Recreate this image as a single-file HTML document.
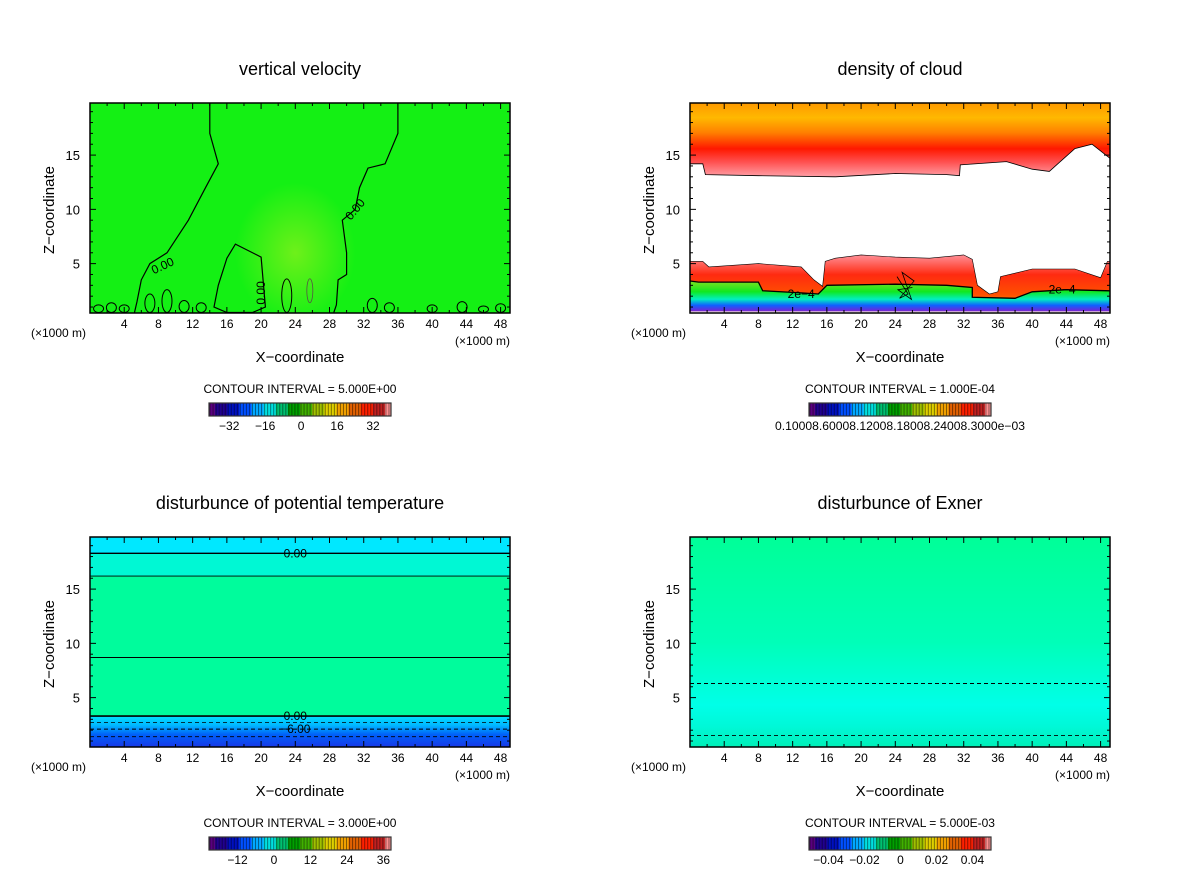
<!DOCTYPE html>
<html><head><meta charset="utf-8"><style>
body{margin:0;background:#fff;width:1200px;height:868px;overflow:hidden}
svg text{font-family:"Liberation Sans",sans-serif;fill:#000}
</style></head><body>
<svg id="s" width="1200" height="868" viewBox="0 0 1200 868" xmlns="http://www.w3.org/2000/svg">
<defs>
<linearGradient id="gCloudTop" gradientUnits="objectBoundingBox" x1="0" y1="1" x2="0" y2="0">
<stop offset="0" stop-color="#ffa0a8"/><stop offset="0.2" stop-color="#ff5050"/><stop offset="0.38" stop-color="#ff1800"/><stop offset="0.6" stop-color="#ff8000"/><stop offset="0.8" stop-color="#ffb800"/><stop offset="1" stop-color="#ff9a00"/></linearGradient>
<linearGradient id="gCloudLow" x1="0" y1="0" x2="0" y2="1">
<stop offset="0" stop-color="#ff9098"/><stop offset="0.35" stop-color="#ff2a10"/><stop offset="0.7" stop-color="#ff5000"/><stop offset="1" stop-color="#ffa000"/></linearGradient>
<linearGradient id="gCloudWet" x1="0" y1="0" x2="0" y2="1">
<stop offset="0" stop-color="#80e020"/><stop offset="0.35" stop-color="#10e820"/><stop offset="0.6" stop-color="#00f0c0"/><stop offset="0.8" stop-color="#1060ff"/><stop offset="1" stop-color="#8020d0"/></linearGradient>
<linearGradient id="gTheta" x1="0" y1="0" x2="0" y2="1">
<stop offset="0" stop-color="#00e0ff"/><stop offset="0.3" stop-color="#00b8ff"/><stop offset="0.6" stop-color="#0060f8"/><stop offset="1" stop-color="#1838e8"/></linearGradient>
<linearGradient id="gExner" x1="0" y1="0" x2="0" y2="1">
<stop offset="0" stop-color="#00ff98"/><stop offset="0.5" stop-color="#00ffb8"/><stop offset="0.8" stop-color="#00ffe8"/><stop offset="0.9" stop-color="#00f8d8"/><stop offset="1" stop-color="#00f0b8"/></linearGradient>
<radialGradient id="gBlob"><stop offset="0" stop-color="#c8f020" stop-opacity="0.5"/><stop offset="1" stop-color="#c8f020" stop-opacity="0"/></radialGradient>
</defs>
<g id="root"></g>
</svg>
<script>
// ---- data ----
const xTicks=[4,8,12,16,20,24,28,32,36,40,44,48];
const zTicks=[5,10,15];
const titles=["vertical velocity","density of cloud","disturbunce of potential temperature","disturbunce of Exner"];
const intervals=["CONTOUR INTERVAL = 5.000E+00","CONTOUR INTERVAL = 1.000E-04","CONTOUR INTERVAL = 3.000E+00","CONTOUR INTERVAL = 5.000E-03"];
const cbLabels0=[-32,-16,0,16,32];
const cbLabels2=[-12,0,12,24,36];
const cbLabels3=[-0.04,-0.02,0,0.02,0.04];
const cbDomains=[[-41,40],[0,1],[-21.4,38.5],[-0.0508,0.0503]];
const wLeft=[[14,19.8],[14,17],[15,14.2],[13.5,12],[11.5,9],[9,6],[7,5],[6,3.5],[5.5,1.5],[5.2,0.5]];
const wRight=[[36,19.8],[36,17],[34.5,14.2],[32.5,13.8],[31.5,12],[31,10],[29.5,9],[30,6],[30,4],[29,3.5],[28.8,1.2],[28.5,0.5]];
const wBlob=[[17,6.8],[20,5.6],[20.5,1],[19,0.5],[16,0.5],[14.5,1],[15,3],[16,5.5]];
const wBumps=[[1,1.2],[2.5,1.4],[4,1.2],[7,2.2],[9,2.6],[11,1.6],[13,1.4],[23,3.6],[33,1.8],[35,1.4],[40,1.2],[43.5,1.5],[46,1.1],[48,1.3]];
const cTop=[[0,14.2],[1.5,14.2],[1.8,13.2],[8,13.1],[17,13],[24,13.3],[30,13.2],[31.5,13.1],[31.6,14.1],[37,14.4],[40,13.7],[42,13.5],[43,14.2],[45,15.6],[47,16],[49.1,14.7]];
const cLow=[[0,5.2],[1.5,5.2],[2.2,4.7],[8,5],[13,4.7],[14.5,3.5],[15.5,2.9],[15.8,5.2],[17,5.5],[20,5.8],[24,5.6],[28,5.5],[32,5.8],[33,5.4],[33.6,3],[35,2.2],[36,2.4],[36.3,3.8],[40,4.5],[45,4.5],[48,3.7],[48.8,5.2],[49.1,5.2]];
const cWet=[[0,3.4],[1,3.3],[8,3.3],[8.5,2.5],[13,2.3],[15,2.2],[16,3.0],[24,3.1],[30,3.0],[33,2.8],[33,1.9],[38,1.8],[40,2.4],[44,2.6],[49.1,2.5]];
const cScribble=[[24.2,3.8],[25.5,2.2],[24.5,1.8],[26.2,3.4],[24.8,4.2],[25.9,1.7],[24.3,2.6],[26,2.8]];
const thLevels=[18.3,16.2,8.7,3.3,2.7,2.1,1.4];
const thDash=[0,0,0,0,1,1,1];
const thWidth=[1.4,0.9,0.9,1.6,0.8,1,0.8];
const exLevels=[6.3,1.5];
const palette=["#5a0080","#200090","#0010c0","#0050ff","#00a8ff","#00e0e0","#00c070","#00a000","#40b000","#a0c000","#e0d000","#f0a000","#e06000","#ff2000","#c02020","#ff9090"];

const panels=[{x0:90,y0:103},{x0:690,y0:103},{x0:90,y0:537},{x0:690,y0:537}];
const W=420,H=210,XMAX=49.1,ZMIN=0.45,ZMAX=19.8;
const NS="http://www.w3.org/2000/svg";
const root=document.getElementById('root');
function mk(tag,attrs,parent){const e=document.createElementNS(NS,tag);for(const k in attrs)e.setAttribute(k,attrs[k]);(parent||root).appendChild(e);return e;}
function sx(p,x){return p.x0+x/XMAX*W;}
function sz(p,z){return p.y0+H-(z-ZMIN)/(ZMAX-ZMIN)*H;}
function pts(p,arr){return arr.map(a=>sx(p,a[0]).toFixed(1)+","+sz(p,a[1]).toFixed(1)).join(" ");}

function frame(i){
  const p=panels[i];
  const g=mk('g',{});
  
  
  mk('rect',{x:p.x0,y:p.y0,width:W,height:H,fill:'none',stroke:'#000','stroke-width':1.5},g);
  for(let x=2;x<XMAX;x+=2){const maj=x%4===0;const L=maj?6:3;const X=sx(p,x);
    mk('line',{x1:X,y1:p.y0+H,x2:X,y2:p.y0+H-L,stroke:'#000'},g);
    mk('line',{x1:X,y1:p.y0,x2:X,y2:p.y0+L,stroke:'#000'},g);}
  for(let z=1;z<ZMAX;z+=1){const maj=z%5===0;const L=maj?6:3;const Y=sz(p,z);
    mk('line',{x1:p.x0,y1:Y,x2:p.x0+L,y2:Y,stroke:'#000'},g);
    mk('line',{x1:p.x0+W,y1:Y,x2:p.x0+W-L,y2:Y,stroke:'#000'},g);}
  xTicks.forEach(v=>{const t=mk('text',{x:sx(p,v),y:p.y0+H+15,'font-size':12,'text-anchor':'middle'},g);t.textContent=v;
    });
  zTicks.forEach(v=>{const t=mk('text',{x:p.x0-10,y:sz(p,v)+5,'font-size':13,'text-anchor':'end'},g);t.textContent=v;
    });
  let t=mk('text',{x:p.x0-59,y:p.y0+H+24,'font-size':12},g);t.textContent="(×1000 m)";
  
  t=mk('text',{x:p.x0+W-55,y:p.y0+H+32,'font-size':12},g);t.textContent="(×1000 m)";
  
  t=mk('text',{x:p.x0+W/2,y:p.y0+H+49,'font-size':15,'text-anchor':'middle'},g);t.textContent="X−coordinate";
  
  t=mk('text',{x:0,y:0,'font-size':15,'text-anchor':'middle',transform:`translate(${p.x0-36},${p.y0+H/2+2}) rotate(-90)`},g);t.textContent="Z−coordinate";
  
  t=mk('text',{x:p.x0+W/2,y:p.y0-28,'font-size':18,'text-anchor':'middle'},g);t.textContent=titles[i];
  
  t=mk('text',{x:p.x0+W/2,y:p.y0+H+80,'font-size':12,'text-anchor':'middle'},g);t.textContent=intervals[i];
  
}
function colorbar(i,labels){
  const p=panels[i];const bx=p.x0+119,by=p.y0+H+90,bw=182,bh=13;
  const g=mk('g',{});
  
  
  const n=60;
  for(let k=0;k<n;k++){const f=k/(n-1)*(palette.length-1);const c=palette[Math.round(f)];
    mk('rect',{x:bx+k*bw/n,y:by,width:bw/n+0.3,height:bh,fill:c},g);
    mk('line',{x1:bx+k*bw/n+1,y1:by,x2:bx+k*bw/n+1,y2:by+bh,stroke:'#000','stroke-opacity':0.45,'stroke-width':1},g);}
  mk('rect',{x:bx,y:by,width:bw,height:bh,fill:'none',stroke:'#333','stroke-width':1.2},g);
  const d=cbDomains[i];
  if(labels){labels.forEach(v=>{const X=bx+(v-d[0])/(d[1]-d[0])*bw;
    const t=mk('text',{x:X,y:by+bh+14,'font-size':12,'text-anchor':'middle'},g);t.textContent=(v<0?"−"+Math.abs(v):v);
    });}
  else{const t=mk('text',{x:bx+bw/2,y:by+bh+14,'font-size':11.5,'text-anchor':'middle',textLength:250,lengthAdjust:'spacingAndGlyphs'},g);
    t.textContent="0.10008.60008.12008.18008.24008.3000e−03";
    }
}
function line(p,arr,g,w,dash){return mk('polyline',{points:pts(p,arr),fill:'none',stroke:'#000','stroke-width':w||1.2,'stroke-dasharray':dash||'none'},g);}
function label(p,x,z,txt,g,rot){const t=mk('text',{x:sx(p,x),y:sz(p,z)+4,'font-size':12,'text-anchor':'middle',transform:rot?`rotate(${rot} ${sx(p,x)} ${sz(p,z)})`:''},g);t.textContent=txt;
  return t;}

(function(){const p=panels[0];const g=mk('g',{});
  
  
  mk('rect',{x:p.x0,y:p.y0,width:W,height:H,fill:'#14f014'},g);
  mk('ellipse',{cx:sx(p,24),cy:sz(p,6),rx:60,ry:70,fill:'url(#gBlob)'},g);
  line(p,wLeft,g);line(p,wRight,g);
  mk('polygon',{points:pts(p,wBlob),fill:'none',stroke:'#000','stroke-width':1.2},g);
  wBumps.forEach(b=>{mk('ellipse',{cx:sx(p,b[0]),cy:(sz(p,b[1])+sz(p,0.5))/2,rx:5,ry:(sz(p,0.5)-sz(p,b[1]))/2,fill:'none',stroke:'#000','stroke-width':1},g);});
  mk('ellipse',{cx:sx(p,25.7),cy:sz(p,2.5),rx:3,ry:12,fill:'none',stroke:'#554',"stroke-width":0.8},g);
  label(p,8.5,4.8,"0.00",g,-25);label(p,31,10,"0.00",g,-50);label(p,20,2.3,"0.00",g,-90);
})();
(function(){const p=panels[1];const g=mk('g',{});
  
  
  mk('rect',{x:p.x0,y:p.y0,width:W,height:H,fill:'#fff'},g);
  mk('polygon',{points:pts(p,cTop.concat([[XMAX,ZMAX],[0,ZMAX]])),fill:'url(#gCloudTop)'},g);
  line(p,cTop,g,0.8);
  mk('polygon',{points:pts(p,cLow.concat([[XMAX,0.6],[0,0.6]])),fill:'url(#gCloudLow)'},g);
  line(p,cLow,g,0.6);
  mk('polygon',{points:pts(p,cWet.concat([[XMAX,0.6],[0,0.6]])),fill:'url(#gCloudWet)'},g);
  line(p,cWet,g,1.3);
  line(p,cScribble,g,0.8);
  label(p,43.5,2.6,"2e−4",g,0);label(p,13,2.2,"2e−4",g,0);
})();
(function(){const p=panels[2];const g=mk('g',{});
  
  
  mk('rect',{x:p.x0,y:p.y0,width:W,height:H,fill:'#00fc9c'},g);
  mk('rect',{x:p.x0,y:p.y0,width:W,height:sz(p,18.3)-p.y0,fill:'#00e8ff'},g);
  mk('rect',{x:p.x0,y:sz(p,18.3),width:W,height:sz(p,16.2)-sz(p,18.3),fill:'#00f8d4'},g);
  mk('rect',{x:p.x0,y:sz(p,3.3),width:W,height:p.y0+H-sz(p,3.3),fill:'url(#gTheta)'},g);
  thLevels.forEach((z,k)=>{line(p,[[0,z],[XMAX,z]],g,thWidth[k],thDash[k]?'4,3':'none');});
  [[18.3,"0.00"],[3.3,"0.00"],[2.1,"−6.00"]].forEach(a=>label(p,24,a[0],a[1],g,0));
})();
(function(){const p=panels[3];const g=mk('g',{});
  
  
  mk('rect',{x:p.x0,y:p.y0,width:W,height:H,fill:'url(#gExner)'},g);
  exLevels.forEach(z=>line(p,[[0,z],[XMAX,z]],g,0.9,'4,3'));
})();
[0,1,2,3].forEach(frame);
colorbar(0,cbLabels0);colorbar(1,null);colorbar(2,cbLabels2);colorbar(3,cbLabels3);
</script>
</body></html>
